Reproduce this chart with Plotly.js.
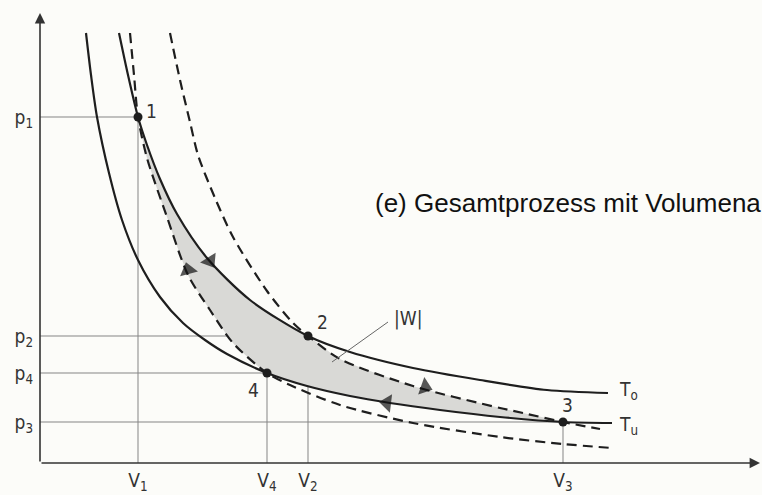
<!DOCTYPE html>
<html>
<head>
<meta charset="utf-8">
<script src="https://cdn.plot.ly/plotly-3.0.1.min.js"></script>
<style>html,body{margin:0;padding:0;background:#fcfcf9;}</style>
</head>
<body>
<div id="chart" style="width:762px;height:495px;"></div>
<script>
// Isotherm T_o (upper, solid)
const toV = [79, 88, 98, 107, 120, 137, 167, 210, 268, 310, 373, 440, 507, 568];
const toP = [430, 388, 346, 318, 284, 249, 205, 163, 127, 111, 95, 83, 73, 70];
// Isotherm T_u (lower, solid)
const tuV = [46, 51, 57, 69, 82, 98, 120, 143, 165, 187, 227, 267, 310, 350, 400, 460, 523, 572];
const tuP = [430, 388, 346, 290, 243, 203, 166, 140, 123, 109, 90, 77, 67, 60, 53, 46, 41, 40];
// Adiabat through 1 and 4 (dashed)
const ad1V = [90, 94, 98, 107, 127, 148, 170, 193, 227, 250, 300, 373, 460, 523, 572];
const ad1P = [430, 388, 346, 305, 246, 188, 153, 120, 90, 78, 58, 40, 26, 19, 15];
// Adiabat through 2 and 3 (dashed)
const ad2V = [130, 140, 150, 158, 175, 193, 227, 253, 268, 300, 373, 460, 483, 523, 560];
const ad2P = [430, 383, 341, 308, 265, 226, 172, 140, 127, 104, 77, 55, 50, 41, 34];
// State points 1..4
const stateNames = ['1', '2', '3', '4'];
const stateV = [98, 268, 523, 227];
const stateP = [346, 127, 41, 90];
const vTickText = ['V<sub>1</sub>', 'V<sub>2</sub>', 'V<sub>3</sub>', 'V<sub>4</sub>'];
const pTickText = ['p<sub>1</sub>', 'p<sub>2</sub>', 'p<sub>3</sub>', 'p<sub>4</sub>'];
// Direction arrows on the cycle (tail, head)
const arrowV = [[163, 170], [368, 385], [364, 347], [152, 148]];
const arrowP = [[213, 202], [82, 76], [58, 60], [178, 193]];

const lf = 'Liberation Sans Narrow, DejaVu Sans Condensed, Arial Narrow, sans-serif';
const ink = '#1e1e1e';

// enclosed work area: 1->2 (T_o), 2->3 (ad2), 3->4 (T_u), 4->1 (ad1)
const i1o = toV.indexOf(98), i2o = toV.indexOf(268);
const i2a = ad2V.indexOf(268), i3a = ad2V.indexOf(523);
const i3u = tuV.indexOf(523), i4u = tuV.indexOf(227);
const i4a = ad1V.indexOf(227), i1a = ad1V.indexOf(98);
const fillV = [].concat(toV.slice(i1o, i2o + 1), ad2V.slice(i2a + 1, i3a + 1),
  tuV.slice(i4u, i3u).reverse(), ad1V.slice(i1a, i4a).reverse());
const fillP = [].concat(toP.slice(i1o, i2o + 1), ad2P.slice(i2a + 1, i3a + 1),
  tuP.slice(i4u, i3u).reverse(), ad1P.slice(i1a, i4a).reverse());

const traces = [
  {x: fillV, y: fillP, mode: 'lines', fill: 'toself', fillcolor: '#d9d9d6',
   line: {width: 0, shape: 'spline', smoothing: 0.5}, hoverinfo: 'skip'},
  {x: toV, y: toP, mode: 'lines', line: {color: ink, width: 2.2, shape: 'spline', smoothing: 0.8}},
  {x: tuV, y: tuP, mode: 'lines', line: {color: ink, width: 2.2, shape: 'spline', smoothing: 0.8}},
  {x: ad1V, y: ad1P, mode: 'lines', line: {color: ink, width: 2.2, dash: '10px,6px', shape: 'spline', smoothing: 0.8}},
  {x: ad2V, y: ad2P, mode: 'lines', line: {color: ink, width: 2.2, dash: '10px,6px', shape: 'spline', smoothing: 0.8}},
  {x: stateV, y: stateP, mode: 'markers', marker: {color: ink, size: 9}}
];
arrowV.forEach((av, k) => {
  traces.push({x: av, y: arrowP[k], mode: 'markers',
    marker: {symbol: 'triangle-up', size: [0, 16], color: '#111', angleref: 'previous', line: {width: 0}}});
});

const shapes = [];
stateV.forEach((v, k) => {
  shapes.push({type: 'line', xref: 'x', yref: 'y', x0: 0, x1: v, y0: stateP[k], y1: stateP[k],
    line: {color: '#858585', width: 1}, layer: 'below'});
  shapes.push({type: 'line', xref: 'x', yref: 'y', x0: v, x1: v, y0: 0, y1: stateP[k],
    line: {color: '#858585', width: 1}, layer: 'below'});
});
// leader line for |W|
shapes.push({type: 'line', xref: 'x', yref: 'y', x0: 348, y0: 141, x1: 292, y1: 101,
  line: {color: '#666', width: 1}});

const annotations = [
  // axes with arrowheads
  {x: 0, y: 450, ax: 0, ay: 0, xref: 'x', yref: 'y', axref: 'x', ayref: 'y', text: '',
   showarrow: true, arrowhead: 2, arrowsize: 1.3, arrowwidth: 1.6, arrowcolor: '#333'},
  {x: 720, y: 0, ax: 0, ay: 0, xref: 'x', yref: 'y', axref: 'x', ayref: 'y', text: '',
   showarrow: true, arrowhead: 2, arrowsize: 1.3, arrowwidth: 1.6, arrowcolor: '#333'},
  {x: -18, y: 425, xref: 'x', yref: 'y', text: 'p', showarrow: false, font: {family: lf, size: 19, color: '#333'}},
  {x: 709, y: -17, xref: 'x', yref: 'y', text: 'V', showarrow: false, font: {family: lf, size: 19, color: '#333'}},
  {x: 111, y: 352, xref: 'x', yref: 'y', text: '1', showarrow: false, font: {family: lf, size: 19, color: '#333'}},
  {x: 282, y: 141, xref: 'x', yref: 'y', text: '2', showarrow: false, font: {family: lf, size: 19, color: '#333'}},
  {x: 527, y: 58, xref: 'x', yref: 'y', text: '3', showarrow: false, font: {family: lf, size: 19, color: '#333'}},
  {x: 213, y: 73, xref: 'x', yref: 'y', text: '4', showarrow: false, font: {family: lf, size: 19, color: '#333'}},
  {x: 577, y: 73, xref: 'x', yref: 'y', xanchor: 'left', text: 'T<sub>o</sub>', showarrow: false, font: {family: lf, size: 19, color: '#333'}},
  {x: 577, y: 38, xref: 'x', yref: 'y', xanchor: 'left', text: 'T<sub>u</sub>', showarrow: false, font: {family: lf, size: 19, color: '#333'}},
  {x: 368, y: 145, xref: 'x', yref: 'y', text: '|W|', showarrow: false, font: {family: lf, size: 19, color: '#333'}},
  {x: 333, y: 260, xref: 'x', yref: 'y', xanchor: 'left', yanchor: 'middle', text: '(e) Gesamtprozess mit Volumena',
   showarrow: false, font: {family: 'Liberation Sans, Arial, sans-serif', size: 26, color: '#111'}}
];

const layout = {
  width: 762, height: 495,
  margin: {l: 40, r: 2, t: 12, b: 32},
  paper_bgcolor: '#fcfcf9', plot_bgcolor: '#fcfcf9',
  showlegend: false,
  xaxis: {range: [0, 720], showgrid: false, zeroline: false, showline: false,
    tickvals: stateV, ticktext: vTickText, ticks: '', ticklabelstandoff: 4,
    tickfont: {family: lf, size: 19, color: '#333'}, fixedrange: true},
  yaxis: {range: [0, 451], showgrid: false, zeroline: false, showline: false,
    tickvals: stateP, ticktext: pTickText, ticks: '', ticklabelstandoff: 6,
    tickfont: {family: lf, size: 19, color: '#333'}, fixedrange: true},
  shapes: shapes,
  annotations: annotations
};

Plotly.newPlot('chart', traces, layout, {displayModeBar: false, staticPlot: true});
</script>
</body>
</html>
